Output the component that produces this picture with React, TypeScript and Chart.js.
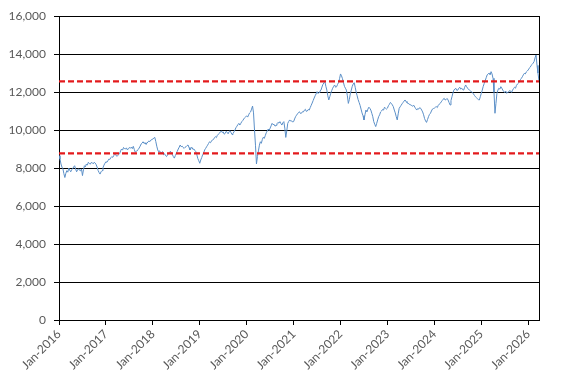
import React, { useEffect, useRef } from "react";
import { Chart, registerables } from "chart.js";

Chart.register(...registerables);

// Weekly-ish closing values (index i => year + i/48)
const v2016 = [8650, 8480, 8210, 8050, 7960, 7700, 7500, 7720, 7860, 7780, 8000, 7880, 7800, 7920, 7960, 8060, 8120, 7950, 7800, 7900, 7960, 7880, 7850, 7950, 7600, 7900, 8120, 8060, 8210, 8150, 8300, 8240, 8200, 8290, 8280, 8220, 8300, 8260, 8180, 8050, 7870, 7760, 7680, 7800, 7860, 8020, 8150, 8250];
const v2017 = [8330, 8300, 8380, 8470, 8450, 8540, 8600, 8560, 8650, 8720, 8700, 8620, 8650, 8700, 8750, 8900, 9000, 8940, 9080, 9020, 9000, 9060, 8950, 9010, 9080, 9040, 9100, 9020, 9140, 8980, 8830, 8880, 8900, 8980, 9050, 9150, 9260, 9310, 9380, 9290, 9330, 9250, 9300, 9380, 9420, 9390, 9470, 9500];
const v2018 = [9520, 9580, 9610, 9400, 9150, 8950, 8850, 8900, 8770, 8820, 8860, 8700, 8750, 8650, 8600, 8690, 8750, 8820, 8880, 8780, 8700, 8600, 8520, 8650, 8770, 8880, 9000, 9100, 9210, 9120, 9150, 9080, 9030, 9090, 9120, 9180, 9210, 9080, 8950, 9040, 9090, 8980, 9000, 8920, 8860, 8700, 8500, 8380];
const v2019 = [8250, 8420, 8550, 8700, 8800, 8950, 9030, 9120, 9200, 9290, 9380, 9330, 9420, 9480, 9500, 9590, 9650, 9600, 9720, 9780, 9820, 9900, 9950, 9870, 9900, 9780, 9820, 9930, 9880, 9800, 9910, 9960, 9860, 9760, 9820, 9900, 10000, 10120, 10200, 10280, 10350, 10260, 10350, 10440, 10500, 10580, 10650, 10700];
const v2020 = [10740, 10680, 10800, 10900, 10950, 11100, 11260, 10900, 10000, 9200, 8210, 8600, 8900, 9200, 9380, 9300, 9500, 9620, 9560, 9700, 9850, 9950, 10050, 9980, 10100, 10220, 10350, 10280, 10300, 10200, 10250, 10330, 10400, 10360, 10440, 10340, 10260, 10380, 10440, 10100, 9610, 9950, 10350, 10450, 10530, 10470, 10480, 10420];
const v2021 = [10440, 10580, 10700, 10780, 10850, 10920, 10960, 10870, 10880, 10960, 10950, 11040, 11090, 10980, 11000, 11080, 11050, 11180, 11300, 11420, 11550, 11680, 11800, 11900, 12020, 11920, 11980, 12060, 12100, 12260, 12400, 12480, 12540, 12300, 12100, 11800, 11580, 11750, 11930, 12080, 12200, 12300, 12370, 12250, 12280, 12400, 12500, 12700];
const v2022 = [12950, 12850, 12700, 12500, 12300, 12200, 12100, 11800, 11400, 11600, 11900, 12100, 12300, 12420, 12490, 12250, 12000, 11800, 11600, 11450, 11300, 11100, 10900, 10750, 10530, 10800, 11050, 10950, 11100, 11200, 11140, 11050, 10880, 10700, 10440, 10300, 10180, 10350, 10530, 10700, 10800, 10950, 11000, 11080, 11050, 11200, 11140, 11100];
const v2023 = [11150, 11280, 11350, 11450, 11400, 11320, 11230, 11050, 10900, 10700, 10530, 10850, 11140, 11220, 11300, 11380, 11450, 11520, 11580, 11500, 11440, 11400, 11380, 11330, 11320, 11280, 11250, 11300, 11200, 11120, 11050, 11130, 11100, 11180, 11140, 11050, 10950, 10800, 10600, 10480, 10400, 10550, 10700, 10820, 10880, 11000, 11100, 11130];
const v2024 = [11150, 11200, 11230, 11180, 11300, 11360, 11400, 11480, 11550, 11620, 11670, 11580, 11600, 11660, 11580, 11450, 11320, 11550, 11750, 11950, 12100, 12160, 12190, 12080, 12100, 12200, 12250, 12150, 12200, 12120, 12100, 12250, 12370, 12280, 12200, 12130, 12100, 12050, 12020, 11960, 11900, 11820, 11750, 11700, 11650, 11600, 11580, 11750];
const v2025 = [11930, 12100, 12300, 12450, 12600, 12750, 12900, 12950, 13000, 12900, 13070, 12950, 12720, 12000, 10880, 11400, 11930, 12100, 12200, 12150, 12280, 12200, 12100, 12020, 11980, 12050, 11930, 11980, 12000, 12080, 12050, 11980, 12100, 12180, 12250, 12200, 12350, 12420, 12460, 12550, 12650, 12720, 12800, 12900, 12980, 12950, 13050, 13100];
const v2026 = [13160, 13250, 13300, 13400, 13450, 13520, 13600, 13800, 13950, 13400, 13000, 12600];

const seriesByYear: [number, number[]][] = [
  [2016, v2016], [2017, v2017], [2018, v2018], [2019, v2019], [2020, v2020],
  [2021, v2021], [2022, v2022], [2023, v2023], [2024, v2024], [2025, v2025], [2026, v2026],
];

const tickYears = [2016, 2017, 2018, 2019, 2020, 2021, 2022, 2023, 2024, 2025, 2026];
const bandLevels = [12560, 8770];
const xMin = 2016;
const xMax = 2026.23;

export default function App() {
  const ref = useRef<HTMLCanvasElement>(null);

  useEffect(() => {
    if (!ref.current) return;
    const points: { x: number; y: number }[] = [];
    seriesByYear.forEach(([yr, vals]) => {
      vals.forEach((v, i) => {
        const x = yr + i / 48;
        if (x <= xMax) points.push({ x, y: v });
      });
    });

    const borderPlugin = {
      id: "rightBorder",
      beforeDatasetsDraw(chart: any) {
        const { ctx, chartArea } = chart;
        ctx.save();
        ctx.strokeStyle = "#000";
        ctx.lineWidth = 1;
        ctx.beginPath();
        const x = Math.round(chartArea.right) + 0.5;
        ctx.moveTo(x, chartArea.top);
        ctx.lineTo(x, chartArea.bottom);
        ctx.stroke();
        ctx.restore();
      },
    };

    const font = { family: "Lato, 'Open Sans', sans-serif", size: 12 };

    const chart = new Chart(ref.current, {
      type: "line",
      data: {
        datasets: [
          ...bandLevels.map((lvl) => ({
            data: [{ x: xMin, y: lvl }, { x: xMax, y: lvl }],
            borderColor: "#e31a1c",
            borderWidth: 2.2,
            borderDash: [6, 3],
            pointRadius: 0,
            fill: false,
          })),
          {
            data: points,
            borderColor: "#5b8fc7",
            borderWidth: 1,
            pointRadius: 0,
            tension: 0,
            fill: false,
          },
        ],
      },
      plugins: [borderPlugin],
      options: {
        animation: false,
        responsive: false,
        devicePixelRatio: 1,
        layout: { padding: { top: 16, right: 28, left: 0, bottom: 0 } },
        plugins: { legend: { display: false }, tooltip: { enabled: false } },
        scales: {
          x: {
            type: "linear",
            min: xMin,
            max: xMax,
            afterBuildTicks: (scale: any) => {
              scale.ticks = tickYears.map((y) => ({ value: y }));
            },
            afterFit: (scale: any) => {
              scale.height = 63;
              scale.paddingLeft = 0;
              scale.paddingRight = 0;
            },
            ticks: {
              autoSkip: false,
              maxRotation: 45,
              minRotation: 45,
              color: "#595959",
              font,
              padding: 2,
              callback: (v: any) => "Jan-" + v,
            },
            grid: {
              drawOnChartArea: false,
              drawTicks: true,
              tickLength: 5,
              color: "#000",
            },
            border: { color: "#000", width: 1 },
          },
          y: {
            min: 0,
            max: 16000,
            afterFit: (scale: any) => {
              scale.width = 59;
              scale.paddingTop = 0;
              scale.paddingBottom = 0;
            },
            ticks: {
              stepSize: 2000,
              color: "#595959",
              font,
              padding: 8,
              callback: (v: any) => Number(v).toLocaleString("en-US"),
            },
            grid: { color: "#000", lineWidth: 1, drawTicks: true, tickLength: 5 },
            border: { color: "#000", width: 1 },
          },
        },
      },
    });
    return () => chart.destroy();
  }, []);

  return (
    <div style={{ position: "fixed", left: 0, top: 0, width: 567, height: 383, background: "#fff" }}>
      <canvas ref={ref} width={567} height={383} style={{ display: "block" }} />
    </div>
  );
}
